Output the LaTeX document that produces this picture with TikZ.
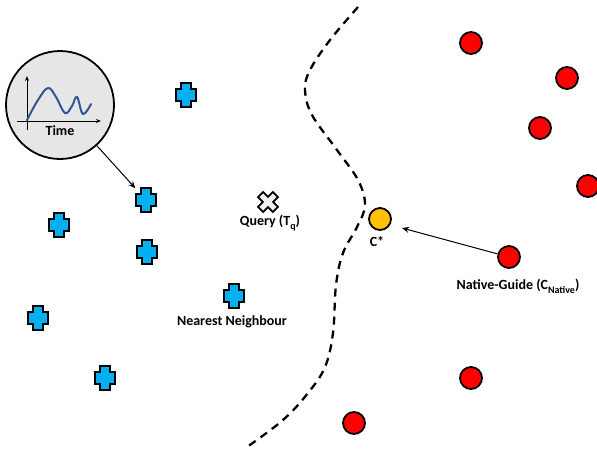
\documentclass[tikz,border=0pt]{standalone}
\usepackage{fontspec}
\setmainfont{Carlito}
\usetikzlibrary{arrows.meta}
\definecolor{plusblue}{HTML}{00B0F0}
\definecolor{dotred}{HTML}{FF0000}
\definecolor{dotyellow}{HTML}{FFC000}
\definecolor{lensgray}{HTML}{E7E6E6}
\definecolor{plotblue}{HTML}{2F5597}
\definecolor{xgray}{HTML}{EFEFEF}
\newcommand{\mysub}[1]{\raisebox{-0.28em}{\fontsize{10}{11}\selectfont #1}}
\tikzset{
  crossbox/.style={inner sep=0pt, minimum width=21pt, minimum height=25pt},
  bluecross/.pic={\draw[line width=1.8pt, fill=plusblue, line join=miter]
     (-5,-12) -- (5,-12) -- (5,-6) -- (10,-6) -- (10,6) -- (5,6) -- (5,12)
     -- (-5,12) -- (-5,6) -- (-10,6) -- (-10,-6) -- (-5,-6) -- cycle;},
  querymark/.pic={\draw[line width=1.8pt, fill=xgray, rotate=45, line join=miter]
     (-3.6,-10.5) -- (3.6,-10.5) -- (3.6,-3.6) -- (10.5,-3.6) -- (10.5,3.6) -- (3.6,3.6) -- (3.6,10.5)
     -- (-3.6,10.5) -- (-3.6,3.6) -- (-10.5,3.6) -- (-10.5,-3.6) -- (-3.6,-3.6) -- cycle;},
  reddot/.style={circle, draw, line width=1.8pt, fill=dotred, minimum size=22pt, inner sep=0pt},
  yellowdot/.style={reddot, fill=dotyellow},
  lbl/.style={font=\fontsize{14}{16}\selectfont\bfseries, inner sep=0pt},
  pointer/.style={line width=1pt, -{Stealth[length=7pt,width=6pt]}},
}
\begin{document}
\begin{tikzpicture}[x=1pt,y=-1pt]
\useasboundingbox (0,0) rectangle (597,448);

% decision boundary
\draw[line width=2.3pt, dash pattern=on 8pt off 6pt]
  plot[smooth, tension=0.6] coordinates {(358,7) (330,40) (310,70) (305,90) (312,115) (337,150) (358,180) (365,205) (357,227) (343,253) (336,285) (333,333) (325,367) (308,393) (283,420) (247,447)};

% blue crosses
\foreach \n/\x/\y in {c1/146/200, c2/186/95, c3/59/225, c4/147/252, nn/234/296, c6/38/318, c7/105/378}{
  \node[crossbox] (\n) at (\x,\y) {};
  \pic at (\x,\y) {bluecross};
}

% query
\node[crossbox, minimum width=20pt, minimum height=20pt] (q) at (268,202) {};
\pic at (268,202) {querymark};
\node[lbl] (qlabel) at (270,223) {Query (T\mysub{q})};
\node[lbl] (nnlabel) at (232,322) {Nearest Neighbour};

% red circles
\node[reddot] (r1) at (471,43) {};
\node[reddot] (r2) at (567,78) {};
\node[reddot] (r3) at (540,128) {};
\node[reddot] (r4) at (588,186) {};
\node[reddot] (ng) at (509,257) {};
\node[reddot] (r6) at (471,378) {};
\node[reddot] (r7) at (354,423) {};

% counterfactual
\node[yellowdot] (cs) at (380,219) {};
\node[lbl] (cslabel) at (377,242) {C*};
\node[lbl] (nglabel) at (518,286) {Native-Guide (C\mysub{Native})};
\draw[pointer] (ng) -- ([xshift=22pt,yshift=-9pt]cs.center);

% lens with time series
\node[circle, draw, line width=1.8pt, fill=lensgray, minimum size=108pt, inner sep=0pt] (lens) at (60,105) {};
\draw[line width=0.9pt, -{Stealth[length=5pt,width=4pt]}] (27,130) -- (27,76);
\draw[line width=0.9pt, -{Stealth[length=5pt,width=4pt]}] (17,121) -- (101,121);
\draw[plotblue, line width=2pt, line cap=round]
  plot[smooth, tension=0.65] coordinates {(27,120) (38,100) (48,88) (56,97) (65,113) (72,106) (77,97) (83,114) (91,104)};
\node[lbl] (timelabel) at (60,131) {Time};
\draw[pointer] (lens) -- (c1);
\end{tikzpicture}
\end{document}
